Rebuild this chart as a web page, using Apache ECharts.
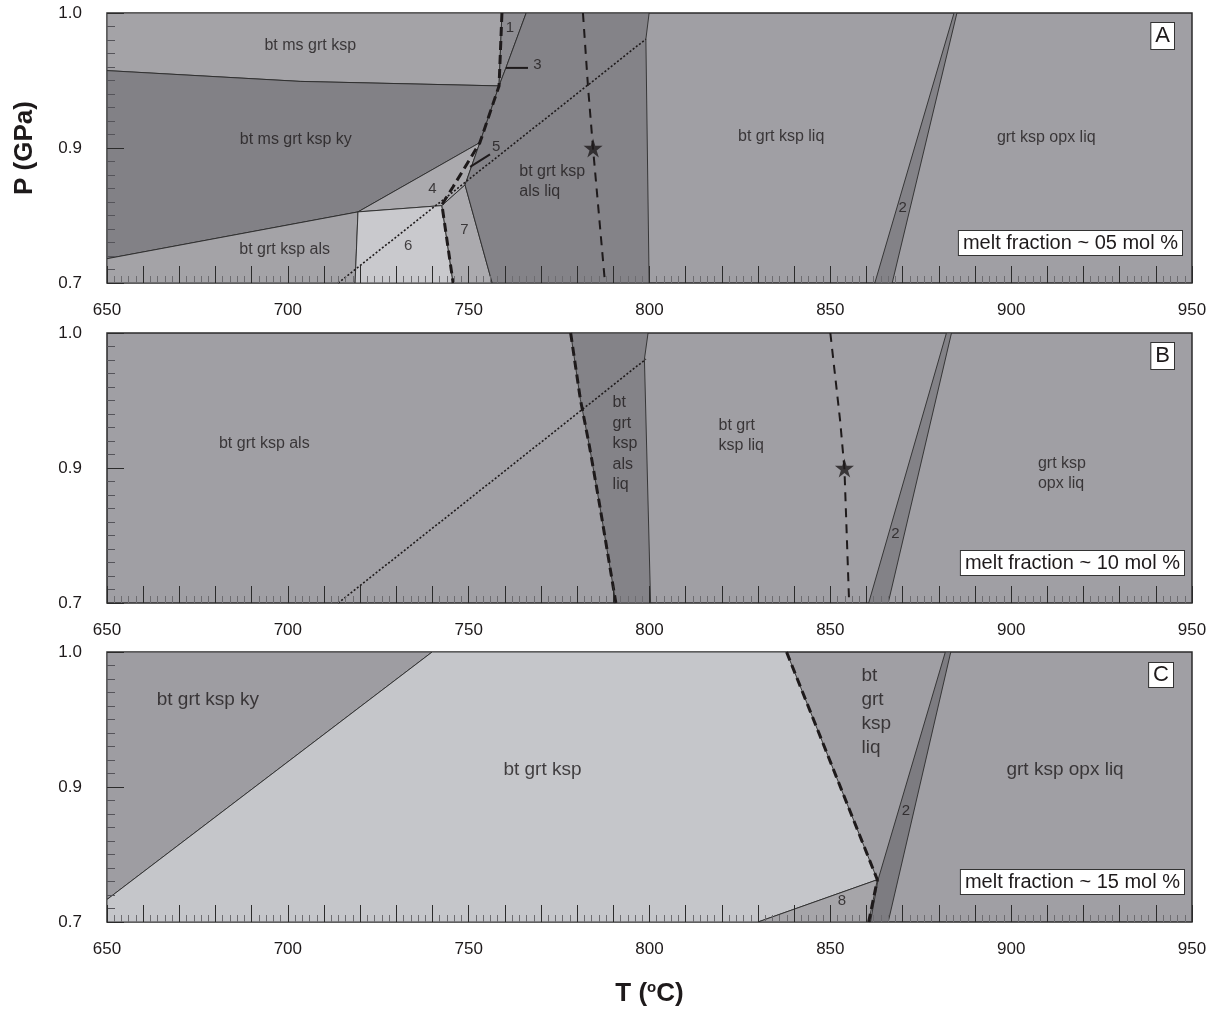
<!DOCTYPE html>
<html>
<head>
<meta charset="utf-8">
<script src="https://cdn.jsdelivr.net/npm/echarts@6/dist/echarts.min.js"></script>
<style>
  html, body { margin: 0; background: #fff; }
  #chart { width: 1215px; height: 1011px; }
</style>
</head>
<body>
<div id="chart"></div>
<script>
// axis ticks
const tTickLabels = ['650', '700', '750', '800', '850', '900', '950'];
const pTickLabels = ['0.7', '0.9', '1.0'];

// phase fields, [id, [[T, P], ...]]
const fieldsA = [
  ['msGrtKsp', [[650, 1.0], [759.2, 1.0], [758.4, 0.919], [703.4, 0.924], [650, 0.936]]],
  ['f1', [[759.2, 1.0], [765.9, 1.0], [760.3, 0.939], [758.4, 0.919]]],
  ['ky', [[650, 0.936], [703.4, 0.924], [758.4, 0.919], [753.1, 0.856], [719.4, 0.779], [650, 0.727]]],
  ['als', [[650, 0.727], [719.4, 0.779], [718.6, 0.7], [650, 0.7]]],
  ['f4', [[719.4, 0.779], [753.1, 0.856], [749.0, 0.809], [742.6, 0.786]]],
  ['f6', [[719.4, 0.779], [742.6, 0.786], [745.7, 0.7], [718.6, 0.7]]],
  ['f7', [[742.6, 0.786], [749.0, 0.809], [756.5, 0.7], [745.7, 0.7]]],
  ['alsLiq', [[765.9, 1.0], [799.9, 1.0], [799.0, 0.971], [799.9, 0.7], [756.5, 0.7], [749.0, 0.809],
              [753.1, 0.856], [758.4, 0.919], [760.3, 0.939]]],
  ['f2', [[884.2, 1.0], [885.0, 1.0], [867.1, 0.7], [862.3, 0.7]]]
];
const fieldsB = [
  ['alsLiq', [[778.2, 1.0], [799.6, 1.0], [798.6, 0.971], [800.3, 0.7], [790.7, 0.7], [786.3, 0.807],
              [783.4, 0.874], [780.9, 0.926]]],
  ['f2', [[882.1, 1.0], [883.5, 1.0], [866.0, 0.7], [860.6, 0.7]]]
];
const fieldsC = [
  ['kyC', [[650, 1.0], [739.9, 1.0], [650, 0.725]]],
  ['grtKsp', [[739.9, 1.0], [837.9, 1.0], [863.0, 0.747], [830.0, 0.7], [650, 0.7], [650, 0.725]]],
  ['f8', [[830.0, 0.7], [863.0, 0.747], [860.6, 0.7]]],
  ['f2C', [[881.8, 1.0], [883.3, 1.0], [866.0, 0.7], [861.1, 0.7], [863.2, 0.747]]]
];

// lines
const meltA = [[759.2, 1.0], [758.4, 0.919], [753.1, 0.856], [745.7, 0.807], [742.6, 0.787], [745.7, 0.7]];
const contourA = [[781.6, 1.0], [783.0, 0.918], [784.4, 0.849], [787.7, 0.7]];
const dottedLine = [[713.9, 0.7], [799.0, 0.971]];
const meltB = [[778.2, 1.0], [780.9, 0.926], [783.4, 0.874], [786.3, 0.807], [790.7, 0.7]];
const contourB = [[850.0, 1.0], [852.7, 0.903], [853.9, 0.849], [855.2, 0.7]];
const meltC = [[837.9, 1.0], [863.0, 0.747], [860.6, 0.7]];
const leader3 = [[760.3, 0.939], [766.4, 0.939]];
const leader5 = [[750.4, 0.829], [755.9, 0.843]];
const starA = [[784.4, 0.85]];
const starB = [[853.9, 0.85]];

// field names
const labelsA = [
  [706.2, 0.964, 'bt ms grt ksp'],
  [702.2, 0.859, 'bt ms grt ksp ky'],
  [699.1, 0.737, 'bt grt ksp als'],
  [764.0, 0.813, 'bt grt ksp\nals liq'],
  [836.4, 0.863, 'bt grt ksp liq'],
  [909.7, 0.862, 'grt ksp opx liq']
];
const numbersA = [
  [761.4, 0.983, '1'], [870.0, 0.783, '2'], [769.0, 0.942, '3'], [740.0, 0.805, '4'],
  [757.6, 0.851, '5'], [733.3, 0.741, '6'], [748.8, 0.759, '7']
];
const labelsB = [
  [693.5, 0.877, 'bt grt ksp als'],
  [789.8, 0.877, 'bt\ngrt\nksp\nals\nliq'],
  [819.1, 0.886, 'bt grt\nksp liq'],
  [907.4, 0.844, 'grt ksp\nopx liq']
];
const numbersB = [[868.0, 0.777, '2']];
const labelsC = [
  [677.9, 0.947, 'bt grt ksp ky'],
  [770.4, 0.869, 'bt grt ksp'],
  [858.6, 0.934, 'bt\ngrt\nksp\nliq'],
  [914.9, 0.869, 'grt ksp opx liq']
];
const numbersC = [[870.9, 0.823, '2'], [853.2, 0.723, '8']];

const shade = {
  msGrtKsp: '#a4a3a7', f1: '#8e8d92', ky: '#828186', als: '#a4a3a7', f4: '#abaaae',
  f6: '#c9c9cd', f7: '#abaaae', alsLiq: '#848388', f2: '#838287',
  kyC: '#9e9da2', grtKsp: '#c5c6ca', f8: '#a6a5a9', f2C: '#7d7c81'
};
const bgGray = '#a09fa4';
const ink = '#1e1a1b';
const font = "'Liberation Sans', Arial, Helvetica, sans-serif";
const panelTops = [13, 333, 652];

const chart = echarts.init(document.getElementById('chart'));

function fieldSeries(fields, k) {
  return {
    type: 'custom', xAxisIndex: k, yAxisIndex: k, clip: true, silent: true, z: 2,
    data: fields.map(f => f[1][0]),
    renderItem: (params, api) => {
      const f = fields[params.dataIndex];
      return {
        type: 'polygon',
        shape: { points: f[1].map(p => api.coord(p)) },
        style: { fill: shade[f[0]], stroke: '#2b2b2b', lineWidth: 0.9 }
      };
    }
  };
}

function lineSeries(data, k, width, dash) {
  return {
    type: 'line', xAxisIndex: k, yAxisIndex: k, data: data, silent: true, z: 4,
    showSymbol: false, symbol: 'none', animation: false,
    lineStyle: { color: ink, width: width, type: dash || 'solid', cap: 'butt' }
  };
}

function labelSeries(list, k, size, lh) {
  return {
    type: 'scatter', xAxisIndex: k, yAxisIndex: k, symbolSize: 1, silent: true, z: 6,
    itemStyle: { color: 'rgba(0,0,0,0)' },
    data: list.map(d => ({
      value: [d[0], d[1]],
      label: { formatter: d[2], align: d[2].indexOf('\n') >= 0 ? 'left' : 'center' }
    })),
    label: {
      show: true, position: 'inside', verticalAlign: 'middle',
      fontSize: size, lineHeight: lh, color: ink, fontFamily: font
    }
  };
}

function starSeries(data, k) {
  return {
    type: 'scatter', xAxisIndex: k, yAxisIndex: k, data: data, silent: true, z: 7,
    symbol: 'path://M50,0 L61,35 L98,35 L68,57 L79,91 L50,70 L21,91 L32,57 L2,35 L39,35 Z',
    symbolSize: 19, itemStyle: { color: ink }
  };
}

const grids = panelTops.map(t => ({
  left: 107, top: t, width: 1085, height: 270, show: true,
  backgroundColor: bgGray, borderColor: '#2b2b2b', borderWidth: 1.5,
  outerBoundsMode: 'none', containLabel: false
}));

const xAxes = panelTops.map((t, k) => ({
  type: 'value', gridIndex: k, min: 650, max: 950, interval: 10, z: 10,
  axisLine: { show: false }, splitLine: { show: false },
  axisTick: { show: true, inside: true, length: 17, lineStyle: { color: '#2b2b2b', width: 1 } },
  minorTick: { show: true, splitNumber: 5, length: 7, lineStyle: { color: '#6d6c70', width: 1 } },
  axisLabel: {
    margin: 19, fontSize: 17, color: ink, fontFamily: font,
    formatter: v => tTickLabels.indexOf(String(v)) >= 0 ? String(v) : ''
  },
  name: k === 2 ? '{t|T (}{s|o}{t|C)}' : '',
  nameLocation: 'middle', nameGap: 58,
  nameTextStyle: {
    rich: {
      t: { fontSize: 26, fontWeight: 'bold', color: ink, fontFamily: font, lineHeight: 28 },
      s: { fontSize: 15, fontWeight: 'bold', color: ink, fontFamily: font, verticalAlign: 'top', lineHeight: 28 }
    }
  }
}));

const yAxes = panelTops.map((t, k) => ({
  type: 'value', gridIndex: k, min: 0.7, max: 1.0, interval: 0.15, z: 10,
  axisLine: { show: false }, splitLine: { show: false },
  axisTick: { show: true, inside: true, length: 17, lineStyle: { color: '#2b2b2b', width: 1 } },
  minorTick: { show: true, splitNumber: 10, length: 8, lineStyle: { color: '#55545a', width: 1 } },
  axisLabel: {
    margin: 25, fontSize: 17, color: ink, fontFamily: font,
    formatter: (v, i) => pTickLabels[i]
  },
  name: k === 0 ? 'P (GPa)' : '',
  nameLocation: 'middle', nameRotate: 90, nameGap: 69,
  nameTextStyle: { fontSize: 26, fontWeight: 'bold', color: ink, fontFamily: font }
}));

function boxText(text, right, top, size, pad) {
  return {
    type: 'text', right: right, top: top, z: 100,
    style: {
      text: text, fontSize: size, fontFamily: font, fill: ink,
      backgroundColor: '#fff', borderColor: '#333', borderWidth: 1, padding: pad
    }
  };
}

chart.setOption({
  animation: false,
  grid: grids,
  xAxis: xAxes,
  yAxis: yAxes,
  series: [
    fieldSeries(fieldsA, 0),
    lineSeries(dottedLine, 0, 1.6, [2, 2]),
    lineSeries(meltA, 0, 3, [9, 5]),
    lineSeries(contourA, 0, 2, [9, 7]),
    lineSeries(leader3, 0, 2),
    lineSeries(leader5, 0, 2),
    starSeries(starA, 0),
    labelSeries(labelsA, 0, 16, 20),
    labelSeries(numbersA, 0, 15, 18),

    fieldSeries(fieldsB, 1),
    lineSeries(dottedLine, 1, 1.6, [2, 2]),
    lineSeries(meltB, 1, 3, [9, 5]),
    lineSeries(contourB, 1, 2, [9, 7]),
    starSeries(starB, 1),
    labelSeries(labelsB, 1, 16, 20.5),
    labelSeries(numbersB, 1, 15, 18),

    fieldSeries(fieldsC, 2),
    lineSeries(meltC, 2, 3, [9, 5]),
    labelSeries(labelsC, 2, 19, 24),
    labelSeries(numbersC, 2, 15, 18)
  ],
  graphic: [
    boxText('A', 40, 22, 22, [2, 4]),
    boxText('B', 40, 342, 22, [2, 4]),
    boxText('C', 41, 662, 22, [1, 4]),
    boxText('melt fraction ~ 05 mol %', 32, 230, 20, [2, 4]),
    boxText('melt fraction ~ 10 mol %', 30, 550, 20, [2, 4]),
    boxText('melt fraction ~ 15 mol %', 30, 869, 20, [2, 4])
  ]
});
</script>
</body>
</html>
